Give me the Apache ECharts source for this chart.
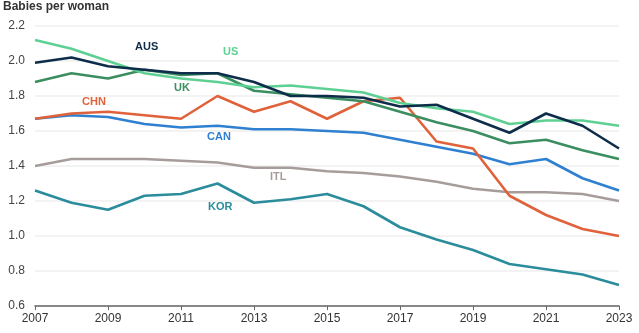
<!DOCTYPE html>
<html>
<head>
<meta charset="utf-8">
<script src="https://cdn.jsdelivr.net/npm/echarts@6/dist/echarts.min.js"></script>
<style>
html,body{margin:0;padding:0;background:#fff;}
#c{width:639px;height:333px;}
</style>
</head>
<body>
<div id="c"></div>
<script>
var years = ['2007','2008','2009','2010','2011','2012','2013','2014','2015','2016','2017','2018','2019','2020','2021','2022','2023'];
var yTicks = [0.6, 0.8, 1.0, 1.2, 1.4, 1.6, 1.8, 2.0, 2.2];

var AUS = [1.99, 2.02, 1.97, 1.95, 1.93, 1.93, 1.88, 1.80, 1.80, 1.79, 1.74, 1.75, 1.67, 1.59, 1.70, 1.63, 1.50];
var US  = [2.12, 2.07, 2.00, 1.93, 1.90, 1.88, 1.85, 1.86, 1.84, 1.82, 1.76, 1.73, 1.71, 1.64, 1.66, 1.66, 1.63];
var UK  = [1.88, 1.93, 1.90, 1.95, 1.92, 1.93, 1.83, 1.81, 1.79, 1.77, 1.71, 1.65, 1.60, 1.53, 1.55, 1.49, 1.44];
var CHN = [1.67, 1.70, 1.71, 1.69, 1.67, 1.80, 1.71, 1.77, 1.67, 1.77, 1.79, 1.54, 1.50, 1.23, 1.12, 1.04, 1.00];
var CAN = [1.67, 1.69, 1.68, 1.64, 1.62, 1.63, 1.61, 1.61, 1.60, 1.59, 1.55, 1.51, 1.47, 1.41, 1.44, 1.33, 1.26];
var ITL = [1.40, 1.44, 1.44, 1.44, 1.43, 1.42, 1.39, 1.39, 1.37, 1.36, 1.34, 1.31, 1.27, 1.25, 1.25, 1.24, 1.20];
var KOR = [1.26, 1.19, 1.15, 1.23, 1.24, 1.30, 1.19, 1.21, 1.24, 1.17, 1.05, 0.98, 0.92, 0.84, 0.81, 0.78, 0.72];

var seriesDefs = [
  {name:'KOR', data:KOR, color:'#2b8c9b', lx:208, ly:208},
  {name:'ITL', data:ITL, color:'#a69d9b', lx:270, ly:178},
  {name:'CAN', data:CAN, color:'#2f80d0', lx:207, ly:138},
  {name:'CHN', data:CHN, color:'#e0623a', lx:82,  ly:103},
  {name:'UK',  data:UK,  color:'#3b8e60', lx:174, ly:89},
  {name:'US',  data:US,  color:'#5fd094', lx:223, ly:53},
  {name:'AUS', data:AUS, color:'#0e2d4a', lx:135, ly:48}
];

var chart = echarts.init(document.getElementById('c'), null, {renderer:'canvas'});
var fontFam = '"Liberation Sans", Arial, sans-serif';

var series = seriesDefs.map(function(s){
  return {
    name: s.name, type:'line', data: s.data, showSymbol:false, symbol:'none',
    lineStyle:{width:2.6, color:s.color}, itemStyle:{color:s.color},
    animation:false, z: 2
  };
});

var graphics = [{
  type:'text', left:3, top:1,
  style:{text:'Babies per woman', font:'bold 12px ' + fontFam, fill:'#333'}
}];
seriesDefs.forEach(function(s){
  graphics.push({
    type:'text', left:s.lx, top:s.ly - 7,
    style:{text:s.name, font:'bold 11px ' + fontFam, fill:s.color}
  });
});

chart.setOption({
  animation:false,
  backgroundColor:'#fff',
  grid:{left:35, right:20, top:26, bottom:27, containLabel:false},
  xAxis:{
    type:'category', data:years, boundaryGap:false,
    axisLine:{show:true, lineStyle:{color:'#666', width:1.5}},
    axisTick:{show:true, interval:1, length:4, inside:false, lineStyle:{color:'#666'}},
    axisLabel:{interval:1, color:'#333', fontSize:12, fontFamily:fontFam, margin:7},
    splitLine:{show:false}
  },
  yAxis:{
    type:'value', min:yTicks[0], max:yTicks[yTicks.length-1], interval:0.2,
    axisLine:{show:false}, axisTick:{show:false},
    axisLabel:{color:'#444', fontSize:12, fontFamily:fontFam, margin:10,
      formatter:function(v){return v.toFixed(1);}},
    splitLine:{show:true, lineStyle:{color:'#efefef', width:1.5}}
  },
  series: series,
  graphic: graphics
});
</script>
</body>
</html>
